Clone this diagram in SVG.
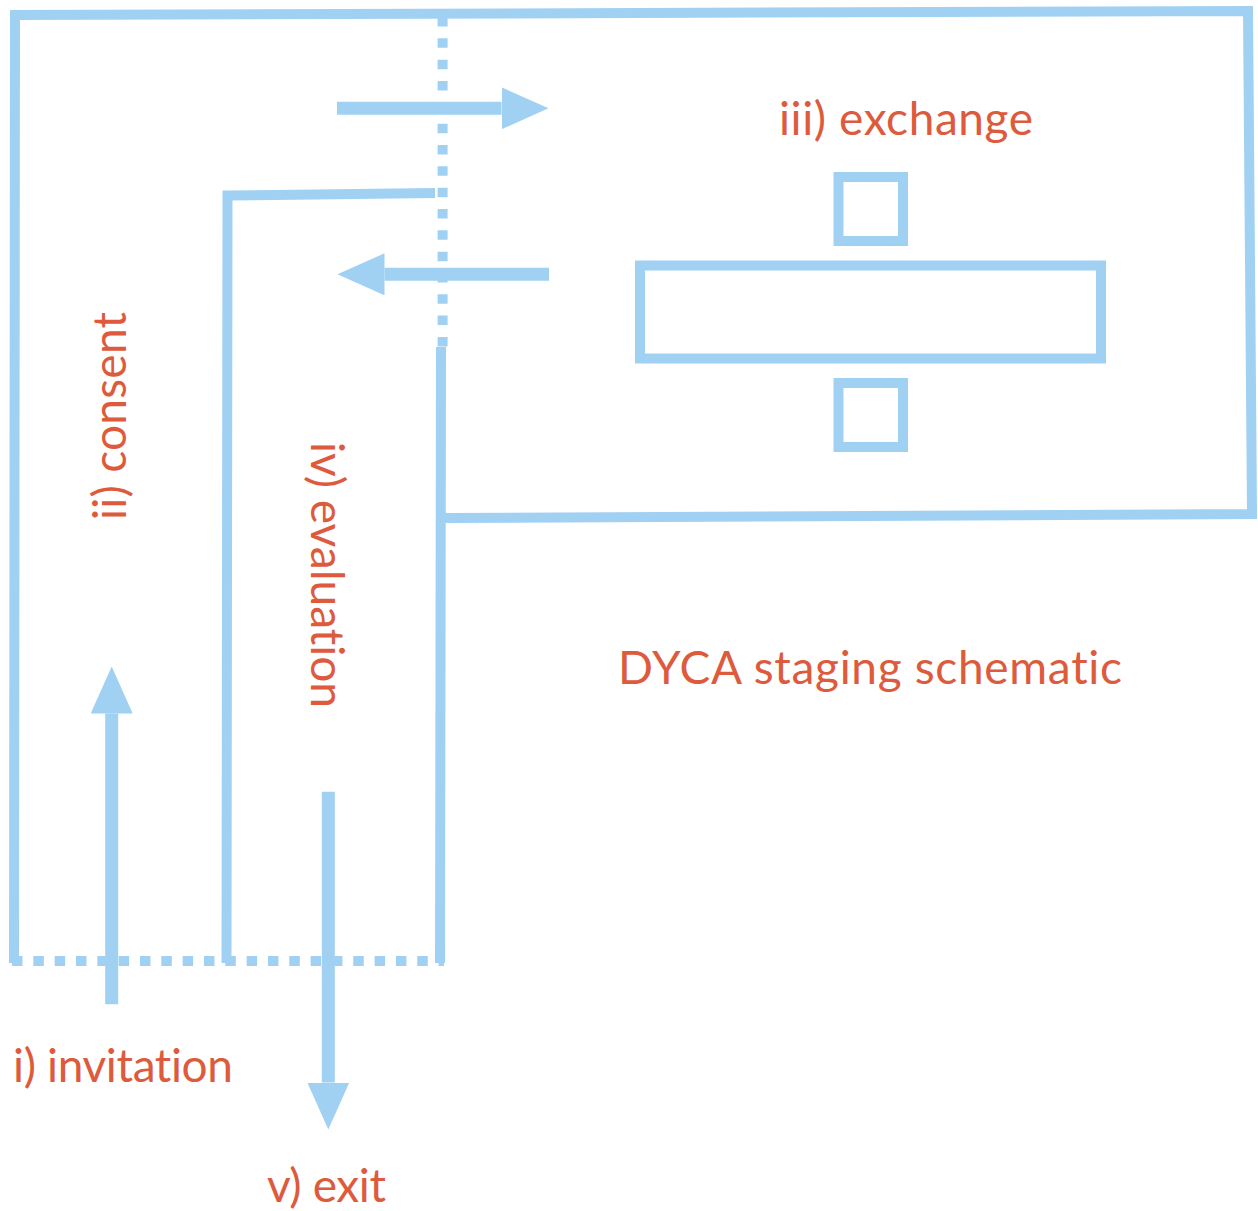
<svg xmlns="http://www.w3.org/2000/svg" width="1258" height="1211" viewBox="0 0 1258 1211">
  <style>
    .ln { fill: none; stroke: #A0D1F3; stroke-width: 10; stroke-linejoin: miter; stroke-linecap: butt; }
    .shaft { fill: none; stroke: #A0D1F3; stroke-width: 13; stroke-linecap: butt; }
    .dot { fill: none; stroke: #A0D1F3; stroke-width: 10; }
    .lbl { fill: #DD5B3C; font-family: Lato, "Open Sans", "Liberation Sans", sans-serif; font-size: 46px; font-weight: 400; font-variant-ligatures: none; font-feature-settings: "liga" 0, "clig" 0; }
  </style>
  <defs>
    <marker id="head" viewBox="0 0 47 42" markerWidth="47" markerHeight="42" markerUnits="userSpaceOnUse" refX="0" refY="21" orient="auto">
      <path d="M0,0 L47,21 L0,42 Z" fill="#A0D1F3"/>
    </marker>
  </defs>
  <rect width="1258" height="1211" fill="#ffffff"/>

  <g id="frame">
    <path class="ln" d="M14,963 L15,15 L1248,11 L1252,514 L445,518"/>
    <path class="ln" d="M441,347 L440,963"/>
    <path class="ln" d="M435,193 L227.5,195.5 L226.5,963"/>
    <path class="dot" d="M442.6,17 L442.6,346.7" stroke-dasharray="9.5 11.83"/>
    <path class="dot" d="M12,961 L444,961" stroke-width="10.5" stroke-dasharray="10.5 10.83"/>
  </g>

  <g id="exchange-area">
    <rect class="ln" x="838.5" y="177" width="64.5" height="64" stroke-width="10.5"/>
    <rect class="ln" x="640" y="265.5" width="461" height="93" stroke-width="10.5"/>
    <rect class="ln" x="838.5" y="383" width="64.5" height="64" stroke-width="10.5"/>
  </g>

  <g id="connectors">
    <path class="shaft" d="M337,108.3 L501.5,108.3" marker-end="url(#head)"/>
    <path class="shaft" d="M549,274.3 L384.5,274.3" marker-end="url(#head)"/>
    <path class="shaft" d="M111.7,1004.3 L111.7,713.5" marker-end="url(#head)"/>
    <path class="shaft" d="M328.3,791.7 L328.3,1082.5" marker-end="url(#head)"/>
  </g>

  <g id="labels">
    <text id="label-exchange" class="lbl" x="779" y="135" textLength="254" lengthAdjust="spacing">iii) exchange</text>
    <text id="label-title" class="lbl" x="618" y="684" textLength="504" lengthAdjust="spacing">DYCA staging schematic</text>
    <text id="label-invitation" class="lbl" x="13" y="1082" textLength="220" lengthAdjust="spacing">i) invitation</text>
    <text id="label-exit" class="lbl" x="267" y="1202" textLength="119" lengthAdjust="spacing">v) exit</text>
    <text id="label-consent" class="lbl" transform="translate(126,520) rotate(-90)" textLength="208" lengthAdjust="spacing">ii) consent</text>
    <text id="label-evaluation" class="lbl" transform="translate(311,442) rotate(90)" textLength="266" lengthAdjust="spacing">iv) evaluation</text>
  </g>
</svg>
